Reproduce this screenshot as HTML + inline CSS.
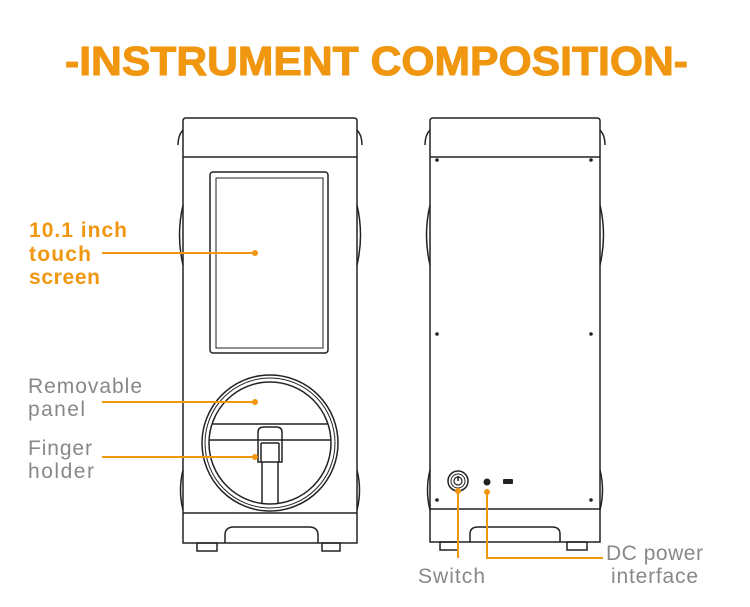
<!DOCTYPE html>
<html><head><meta charset="utf-8"><style>
html,body{margin:0;padding:0;background:#fff;width:750px;height:607px;overflow:hidden}
svg{display:block}
</style></head><body>
<svg width="750" height="607" viewBox="0 0 750 607" xmlns="http://www.w3.org/2000/svg" font-family="Liberation Sans, sans-serif">
<text x="65" y="75" font-size="41" font-weight="bold" fill="#f0960f" stroke="#f0960f" stroke-width="1" textLength="623" lengthAdjust="spacingAndGlyphs">-INSTRUMENT COMPOSITION-</text>

<g fill="none" stroke="#222" stroke-width="1.5">
<path d="M186 118 H354 Q357 118 357 121 V543 H183 V121 Q183 118 186 118 Z"/>
<path d="M183 130 Q178 135 178 145 M357 130 Q362 135 362 145"/>
<line x1="183" y1="157" x2="357" y2="157"/>
<path d="M183 205 Q176 235 183 265 M357 205 Q364 235 357 265"/>
<path d="M183 470 Q178 490 183 510 M357 470 Q362 490 357 510"/>
<rect x="210" y="172" width="118" height="181" rx="3"/>
<rect x="216" y="178" width="107" height="170" stroke-width="1"/>
<circle cx="270" cy="443" r="68"/>
<circle cx="270" cy="443" r="65" stroke-width="1"/>
<circle cx="270" cy="443" r="61"/>
<line x1="213" y1="424" x2="327" y2="424"/>
<line x1="209" y1="440" x2="331" y2="440"/>
<path d="M258 462 V432 Q258 427 264 427 H276 Q282 427 282 432 V462 Z"/>
<path d="M261 443 H279 M261 443 V462 M279 443 V462"/>
<path d="M262 462 V503 M278 462 V503"/>
<line x1="183" y1="513" x2="357" y2="513"/>
<path d="M225 543 V535 Q225 527 234 527 H309 Q318 527 318 535 V543"/>
<rect x="197" y="543" width="20" height="8"/>
<rect x="322" y="543" width="18" height="8"/>
<path d="M433 118 H597 Q600 118 600 121 V542 H430 V121 Q430 118 433 118 Z"/>
<path d="M430 130 Q425 135 425 145 M600 130 Q605 135 605 145"/>
<line x1="430" y1="157" x2="600" y2="157"/>
<path d="M430 205 Q423 235 430 265 M600 205 Q607 235 600 265"/>
<path d="M430 470 Q425 490 430 510 M600 470 Q605 490 600 510"/>
<line x1="430" y1="509" x2="600" y2="509"/>
<path d="M470 542 V534 Q470 527 478 527 H552 Q560 527 560 534 V542"/>
<rect x="440" y="542" width="18" height="8"/>
<rect x="567" y="542" width="20" height="8"/>
<circle cx="458" cy="481" r="10"/>
<circle cx="458" cy="481" r="7" stroke-width="1"/>
<circle cx="458" cy="481" r="4" stroke-width="1.2"/>
</g>
<g fill="#222">
<rect x="457.3" y="476" width="1.5" height="5"/>
<circle cx="487" cy="482" r="3.5"/>
<rect x="503" y="479" width="10" height="5" rx="1"/>
<circle cx="437" cy="160" r="1.8"/><circle cx="591" cy="160" r="1.8"/>
<circle cx="437" cy="334" r="1.8"/><circle cx="591" cy="334" r="1.8"/>
<circle cx="437" cy="500" r="1.8"/><circle cx="591" cy="500" r="1.8"/>
</g>

<g stroke="#f0960f" stroke-width="2" fill="none">
<line x1="102" y1="253" x2="255" y2="253"/>
<line x1="102" y1="402" x2="255" y2="402"/>
<line x1="102" y1="457" x2="255" y2="457"/>
<line x1="458" y1="491" x2="458" y2="558"/>
<path d="M487 492 V558 H603"/>
</g>
<g fill="#f0960f">
<circle cx="255" cy="253" r="3"/><circle cx="255" cy="402" r="3"/><circle cx="255" cy="457" r="3"/>
<circle cx="458" cy="491" r="3"/><circle cx="487" cy="492" r="3"/>
</g>

<g font-size="21" font-weight="bold" fill="#f0960f">
<text x="29" y="237" textLength="98">10.1 inch</text>
<text x="29" y="261" textLength="62">touch</text>
<text x="29" y="284" textLength="71">screen</text>
</g>
<g font-size="21" fill="#888">
<text x="28" y="393" textLength="114">Removable</text>
<text x="28" y="416" textLength="57">panel</text>
<text x="28" y="455" textLength="64">Finger</text>
<text x="28" y="478" textLength="66">holder</text>
<text x="418" y="583" textLength="67">Switch</text>
<text x="606" y="560" textLength="97">DC power</text>
<text x="611" y="583" textLength="87">interface</text>
</g>
</svg>
</body></html>
